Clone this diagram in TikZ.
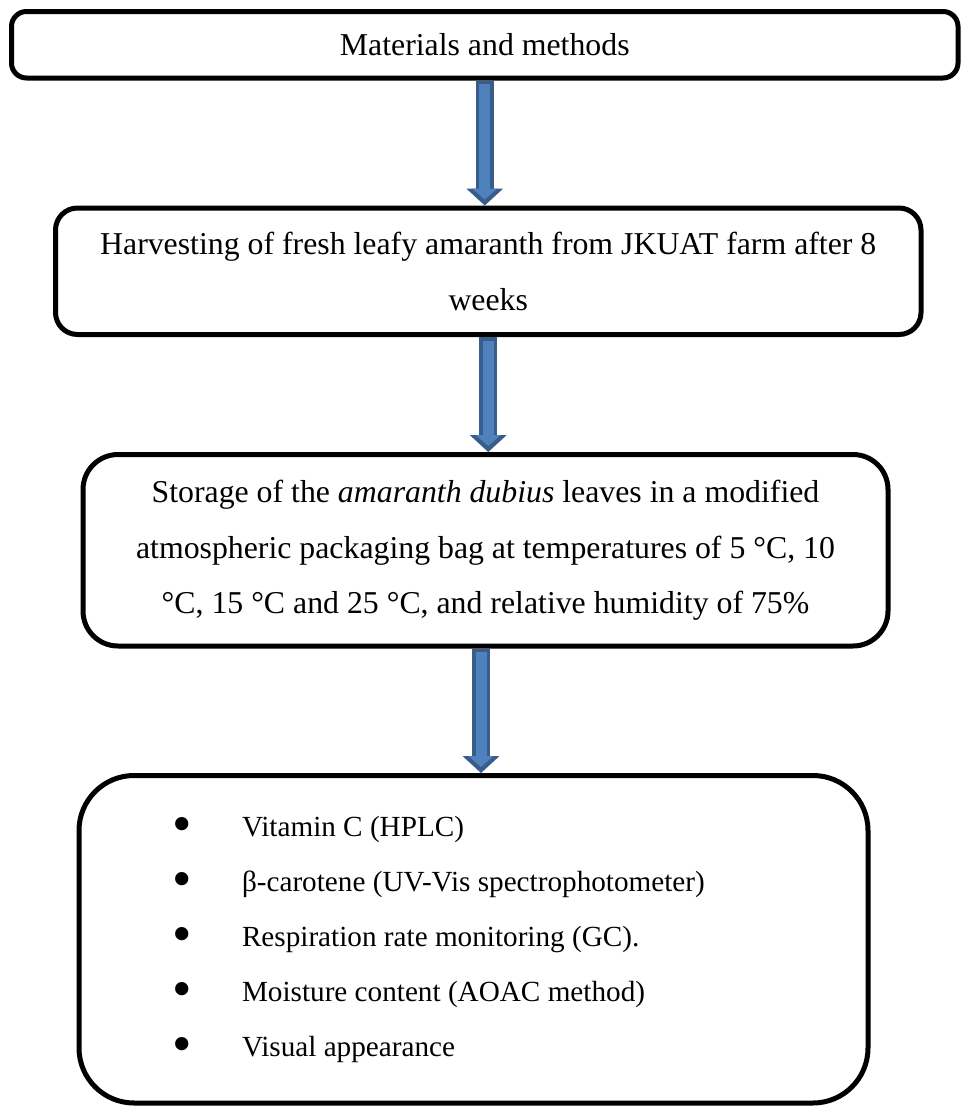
\documentclass[tikz,border=0pt]{standalone}
\usepackage{fontspec}
\setmainfont{Liberation Serif}
\usetikzlibrary{arrows.meta}
\definecolor{arrowfill}{RGB}{79,129,189}
\definecolor{arrowedge}{RGB}{56,93,138}
\tikzset{
  stagebox/.style={draw, line width=2.5pt, inner sep=0pt, align=center,
    font=\fontsize{15.9}{27.75}\selectfont},
  flowedge/.style={draw=arrowedge, line width=9pt,
    -{Triangle[length=8.5pt,width=18.5pt,line width=0pt]}},
  flowfill/.style={draw=arrowfill, line width=5.5pt, shorten <=1.75pt, shorten >=3pt,
    -{Triangle[length=5.5pt,width=12.5pt,line width=0pt]}}
}
\newcommand{\flowarrow}[2]{\draw[flowedge] (#1) -- (#2); \draw[flowfill] (#1) -- (#2);}
\newcommand{\listmark}{\makebox[34.75pt][l]{\raisebox{-0.45ex}{\scalebox{1.9}{\textbullet}}}}
\begin{document}
\begin{tikzpicture}[x=0.5pt, y=-0.5pt]
    \useasboundingbox (0,0) rectangle (961,1108);
    % boxes
    \node[stagebox, minimum width=473.25pt, minimum height=33.25pt, rounded corners=7.5pt]
        (methods) at (484.75,44.75) {Materials and methods};
    \node[stagebox, minimum width=432.75pt, minimum height=63.25pt, rounded corners=11pt]
        (harvest) at (488.25,271.25) {Harvesting of fresh leafy amaranth from JKUAT farm after 8\\ weeks};
    \node[stagebox, minimum width=402.5pt, minimum height=95.75pt, rounded corners=17.5pt]
        (storage) at (485.5,550.25) {Storage of the \textit{amaranth dubius} leaves in a modified\\
        atmospheric packaging bag at temperatures of 5 °C, 10\\
        °C, 15 °C and 25 °C, and relative humidity of 75\%};
    \node[stagebox, align=flush left, text width=301pt, inner xsep=46.75pt, minimum height=163.75pt,
        rounded corners=27.5pt, font=\fontsize{14.6}{27.5}\selectfont] (analysis) at (473.5,939.25)
        {\listmark Vitamin C (HPLC)\\
        \listmark β-carotene (UV-Vis spectrophotometer)\\
        \listmark Respiration rate monitoring (GC).\\
        \listmark Moisture content (AOAC method)\\
        \listmark Visual appearance};
    % arrows
    \coordinate (a3) at ([xshift=-2.25pt]storage.south);
    \flowarrow{methods.south}{methods.south |- harvest.north}
    \flowarrow{harvest.south}{harvest.south |- storage.north}
    \flowarrow{a3}{a3 |- analysis.north}
\end{tikzpicture}
\end{document}
